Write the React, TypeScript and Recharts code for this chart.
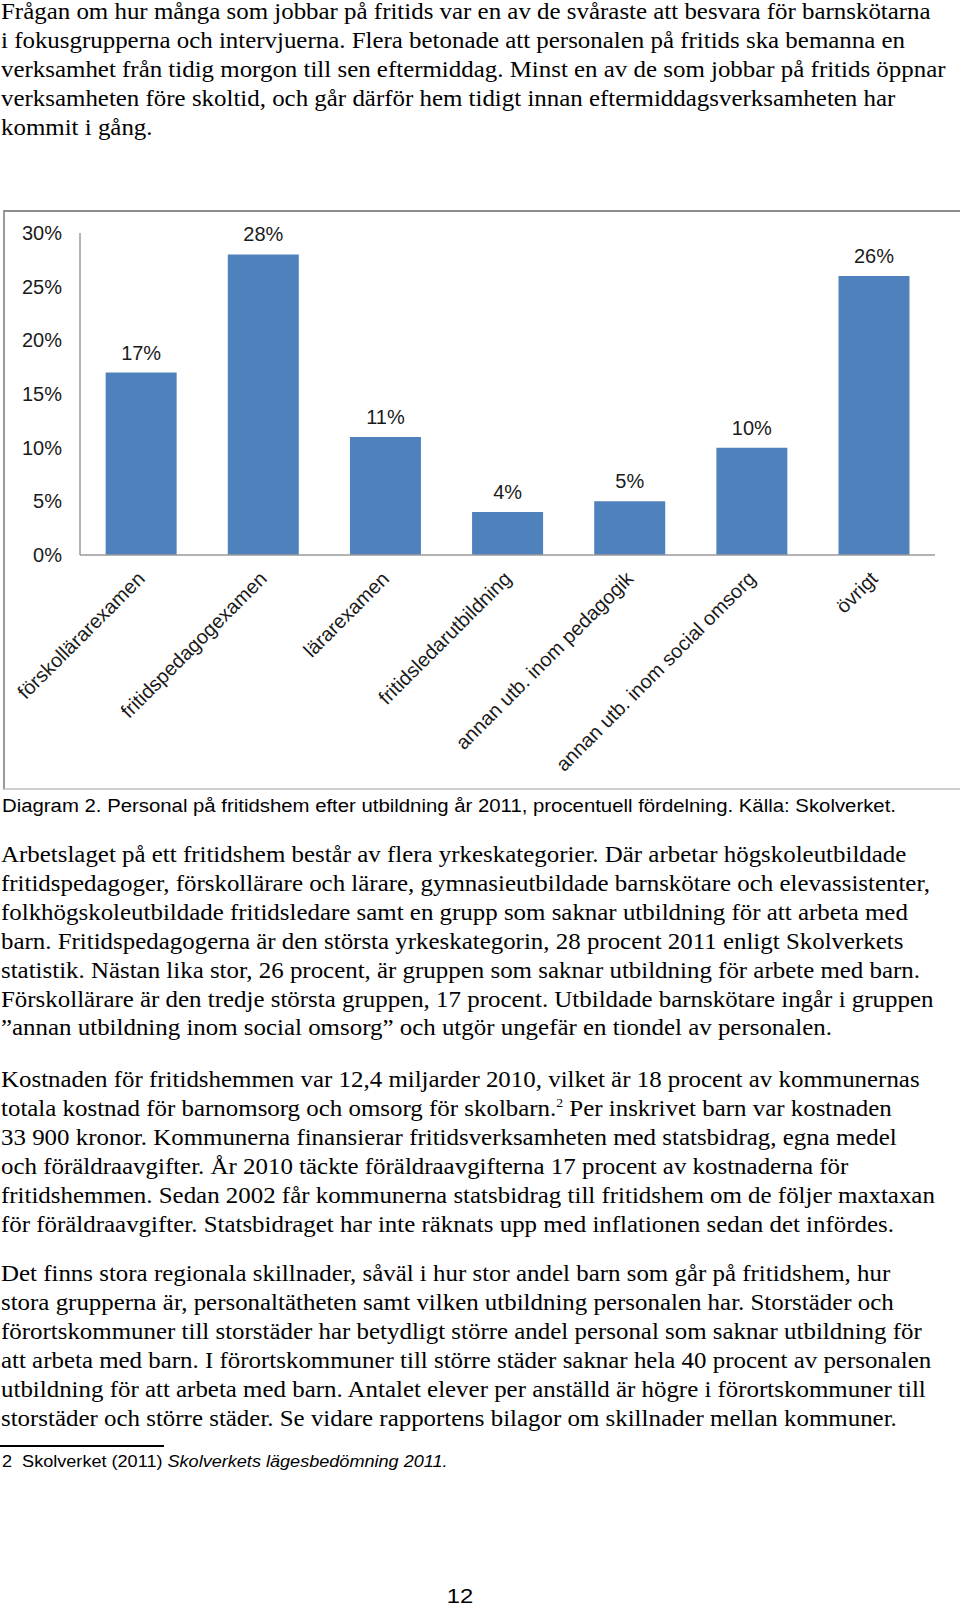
import React from 'react'
import { BarChart, Bar, XAxis, YAxis, LabelList } from 'recharts'

// Diagram 2 – personal på fritidshem efter utbildning 2011 (procent)
const categories = [
  'förskollärarexamen',
  'fritidspedagogexamen',
  'lärarexamen',
  'fritidsledarutbildning',
  'annan utb. inom pedagogik',
  'annan utb. inom social omsorg',
  'övrigt'
]
const shares = [17, 28, 11, 4, 5, 10, 26]
const yTicks = [0, 5, 10, 15, 20, 25, 30]

const para1 = [
  'Frågan om hur många som jobbar på fritids var en av de svåraste att besvara för barnskötarna',
  'i fokusgrupperna och intervjuerna. Flera betonade att personalen på fritids ska bemanna en',
  'verksamhet från tidig morgon till sen eftermiddag. Minst en av de som jobbar på fritids öppnar',
  'verksamheten före skoltid, och går därför hem tidigt innan eftermiddagsverksamheten har',
  'kommit i gång.'
]
const para2 = [
  'Arbetslaget på ett fritidshem består av flera yrkeskategorier. Där arbetar högskoleutbildade',
  'fritidspedagoger, förskollärare och lärare, gymnasieutbildade barnskötare och elevassistenter,',
  'folkhögskoleutbildade fritidsledare samt en grupp som saknar utbildning för att arbeta med',
  'barn. Fritidspedagogerna är den största yrkeskategorin, 28 procent 2011 enligt Skolverkets',
  'statistik. Nästan lika stor, 26 procent, är gruppen som saknar utbildning för arbete med barn.',
  'Förskollärare är den tredje största gruppen, 17 procent. Utbildade barnskötare ingår i gruppen',
  '”annan utbildning inom social omsorg” och utgör ungefär en tiondel av personalen.'
]
const para3 = [
  'Kostnaden för fritidshemmen var 12,4 miljarder 2010, vilket är 18 procent av kommunernas',
  'totala kostnad för barnomsorg och omsorg för skolbarn.^ Per inskrivet barn var kostnaden',
  '33 900 kronor. Kommunerna finansierar fritidsverksamheten med statsbidrag, egna medel',
  'och föräldraavgifter. År 2010 täckte föräldraavgifterna 17 procent av kostnaderna för',
  'fritidshemmen. Sedan 2002 får kommunerna statsbidrag till fritidshem om de följer maxtaxan',
  'för föräldraavgifter. Statsbidraget har inte räknats upp med inflationen sedan det infördes.'
]
const para4 = [
  'Det finns stora regionala skillnader, såväl i hur stor andel barn som går på fritidshem, hur',
  'stora grupperna är, personaltätheten samt vilken utbildning personalen har. Storstäder och',
  'förortskommuner till storstäder har betydligt större andel personal som saknar utbildning för',
  'att arbeta med barn. I förortskommuner till större städer saknar hela 40 procent av personalen',
  'utbildning för att arbeta med barn. Antalet elever per anställd är högre i förortskommuner till',
  'storstäder och större städer. Se vidare rapportens bilagor om skillnader mellan kommuner.'
]

const data = categories.map((name, i) => ({ name, value: shares[i] }))

const SANS = '"Liberation Sans", Arial, sans-serif'
const SERIF = '"Liberation Serif", "Times New Roman", serif'

function renderLine(line: string) {
  // '^' marks the footnote reference
  if (line.includes('^')) {
    const [a, b] = line.split('^')
    return (
      <>
        {a}
        <sup style={{ fontSize: '0.55em', lineHeight: 0 }}>2</sup>
        {b}
      </>
    )
  }
  return line
}

function Paragraph({ lines, top }: { lines: string[]; top: number }) {
  return (
    <div
      style={{
        position: 'absolute',
        left: 1,
        top,
        fontFamily: SERIF,
        fontSize: 23,
        lineHeight: '28.9px',
        color: '#000',
        transform: 'scaleX(1.083)',
        transformOrigin: 'left top'
      }}
    >
      {lines.map((l, i) => (
        <div key={i} style={{ whiteSpace: 'nowrap' }}>
          {renderLine(l)}
        </div>
      ))}
    </div>
  )
}

const XTick = (props: any) => {
  const { x, y, payload } = props
  const ax = x + 5
  const ay = y + 17
  return (
    <text
      x={ax}
      y={ay}
      transform={`rotate(-45 ${ax} ${ay})`}
      textAnchor="end"
      fontSize={20}
      fontFamily={SANS}
      fill="#1a1a1a"
    >
      {payload.value}
    </text>
  )
}

export default function App() {
  return (
    <div style={{ position: 'relative', width: 960, height: 1607, overflow: 'hidden', background: '#fff' }}>
      <style>{`body{margin:0}`}</style>

      <Paragraph lines={para1} top={-2} />

      {/* ram runt diagrammet */}
      <div
        style={{
          position: 'absolute',
          left: 3,
          top: 210,
          width: 970,
          height: 576,
          borderTop: '2px solid #8c8c8c',
          borderLeft: '2px solid #9a9a9a',
          borderBottom: '2px solid #cfcfcf'
        }}
      />

      <div style={{ position: 'absolute', left: 0, top: 200 }}>
        <BarChart
          width={960}
          height={600}
          data={data}
          margin={{ top: 33, right: 25, left: 20, bottom: 45 }}
          barCategoryGap="21%"
        >
          <XAxis
            dataKey="name"
            interval={0}
            height={200}
            tickLine={false}
            axisLine={{ stroke: '#9a9a9a', strokeWidth: 1.5 }}
            tick={<XTick />}
          />
          <YAxis
            width={60}
            domain={[0, 30]}
            ticks={yTicks}
            tickFormatter={(v: number) => `${v}%`}
            tickLine={false}
            tickMargin={12}
            axisLine={{ stroke: '#9a9a9a', strokeWidth: 1.5 }}
            tick={{ fontSize: 20, fontFamily: SANS, fill: '#1a1a1a' }}
          />
          <Bar dataKey="value" fill="#4F81BD" isAnimationActive={false}>
            <LabelList
              dataKey="value"
              position="top"
              offset={13}
              formatter={(v: any) => `${v}%`}
              style={{ fontSize: 20, fontFamily: SANS, fill: '#1a1a1a' }}
            />
          </Bar>
        </BarChart>
      </div>

      <div
        style={{
          position: 'absolute',
          left: 2,
          top: 796,
          fontFamily: SANS,
          fontSize: 18,
          whiteSpace: 'nowrap',
          color: '#000',
          transform: 'scaleX(1.13)',
          transformOrigin: 'left top'
        }}
      >
        Diagram 2. Personal på fritidshem efter utbildning år 2011, procentuell fördelning. Källa: Skolverket.
      </div>

      <Paragraph lines={para2} top={841} />
      <Paragraph lines={para3} top={1066} />
      <Paragraph lines={para4} top={1260} />

      {/* fotnot */}
      <div style={{ position: 'absolute', left: 0, top: 1445, width: 164, height: 2, background: '#000' }} />
      <div
        style={{
          position: 'absolute',
          left: 2,
          top: 1453,
          fontFamily: SANS,
          fontSize: 16,
          whiteSpace: 'nowrap',
          color: '#000',
          transform: 'scaleX(1.13)',
          transformOrigin: 'left top'
        }}
      >
        2&nbsp; Skolverket (2011) <i>Skolverkets lägesbedömning 2011.</i>
      </div>

      <div
        style={{
          position: 'absolute',
          left: 0,
          width: 920,
          top: 1584,
          textAlign: 'center',
          fontFamily: SANS,
          fontSize: 21,
          color: '#000',
          transform: 'scaleX(1.13)',
          transformOrigin: '460px top'
        }}
      >
        12
      </div>
    </div>
  )
}
